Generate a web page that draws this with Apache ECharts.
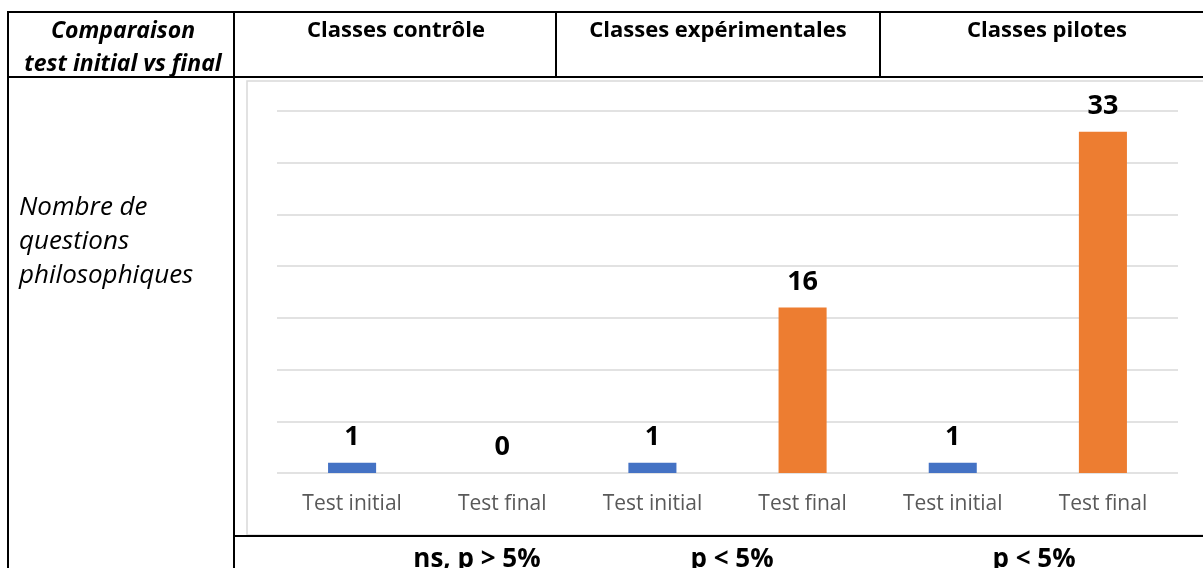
<!DOCTYPE html>
<html>
<head>
<meta charset="utf-8">
<script src="https://cdn.jsdelivr.net/npm/echarts@6/dist/echarts.min.js"></script>
<style>
html,body{margin:0;padding:0;background:#fff;}
#chart{width:1203px;height:568px;}
</style>
</head>
<body>
<div id="chart"></div>
<script>
// ---- data ----
const categories = ['Test initial', 'Test final', 'Test initial', 'Test final', 'Test initial', 'Test final'];
const values = [1, 0, 1, 16, 1, 33];
const groupHeaders = ['Classes contrôle', 'Classes expérimentales', 'Classes pilotes'];
const significance = ['ns, p > 5%', 'p < 5%', 'p < 5%'];
const cornerLabel = ['Comparaison', 'test initial vs final'];
const rowLabel = ['Nombre de', 'questions', 'philosophiques'];
const yMax = 35;
const yStep = 5;

const FONT = '"Open Sans", "DejaVu Sans", sans-serif';
const BLUE = '#4472C4';
const ORANGE = '#ED7D31';

const chart = echarts.init(document.getElementById('chart'), null, {renderer: 'canvas'});

function line(x1, y1, x2, y2, color, w) {
  return {type: 'line', silent: true, z: 10,
    shape: {x1: x1, y1: y1, x2: x2, y2: y2},
    style: {stroke: color, lineWidth: w}};
}
function txt(t, x, y, size, weight, style, align) {
  return {type: 'text', silent: true, z: 10,
    style: {text: t, x: x, y: y, fill: '#000',
      fontFamily: FONT, fontSize: size, fontWeight: weight, fontStyle: style,
      align: align || 'center', verticalAlign: 'middle',
      textAlign: align || 'center', textVerticalAlign: 'middle'}};
}

const headerX = [396, 718, 1047];
const sigX = [477, 732, 1034];

const graphics = [
  // chart frame
  {type: 'rect', silent: true, z: 1,
    shape: {x: 247, y: 81, width: 970, height: 454},
    style: {fill: 'none', stroke: '#d9d9d9', lineWidth: 1.5}},
  // table lines
  line(7, 12, 1210, 12, '#000', 2),
  line(8, 11, 8, 570, '#000', 2),
  line(7, 77, 1210, 77, '#000', 2),
  line(234, 11, 234, 570, '#000', 2),
  line(556, 11, 556, 77, '#000', 2),
  line(880, 11, 880, 77, '#000', 2),
  line(233, 536, 1210, 536, '#000', 2),
  // corner
  txt(cornerLabel[0], 123, 31, 23, 'bold', 'italic'),
  txt(cornerLabel[1], 123, 64, 23, 'bold', 'italic')
];
groupHeaders.forEach(function (g, i) { graphics.push(txt(g, headerX[i], 31, 22, 'bold', 'normal')); });
rowLabel.forEach(function (r, i) { graphics.push(txt(r, 19, 208 + i * 34, 26, 'normal', 'italic', 'left')); });
significance.forEach(function (s, i) { graphics.push(txt(s, sigX[i], 560, 26, 'bold', 'normal')); });

chart.setOption({
  animation: false,
  backgroundColor: '#fff',
  grid: {left: 277, right: 25, top: 111, bottom: 95, containLabel: false},
  xAxis: {
    type: 'category',
    data: categories,
    axisLine: {show: false},
    axisTick: {show: false},
    axisLabel: {color: '#595959', fontSize: 21, fontFamily: FONT, margin: 21, interval: 0}
  },
  yAxis: {
    type: 'value',
    min: 0, max: yMax, interval: yStep,
    axisLabel: {show: false},
    axisLine: {show: false},
    axisTick: {show: false},
    splitLine: {lineStyle: {color: '#d9d9d9', width: 1.5}}
  },
  series: [{
    type: 'bar',
    z: 5,
    data: values,
    barWidth: '32%',
    itemStyle: {
      color: function (p) { return categories[p.dataIndex] === 'Test initial' ? BLUE : ORANGE; }
    },
    label: {
      show: true, position: 'top', distance: 12,
      color: '#000', fontSize: 27, fontWeight: 'bold', fontFamily: FONT
    }
  }],
  graphic: graphics
});
</script>
</body>
</html>
